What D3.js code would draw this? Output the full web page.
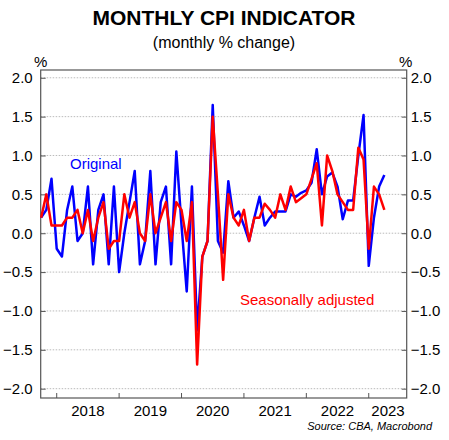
<!DOCTYPE html>
<head>
    <meta charset="UTF-8" />
    <script src="https://d3js.org/d3.v7.min.js"></script>
    <style>
        body { margin: 0; background: #fff; font-family: 'Liberation Sans', Arial, sans-serif; }
    </style>
</head>
<body>
<div id="chart"></div>
<script>
    // months run Oct 2017 .. Apr 2023
    const startYear = 2017, startMonth = 9
    const original = [0.2, 0.3, 0.7, -0.2, -0.3, 0.3, 0.6, -0.1, 0.0, 0.6, -0.4, 0.3, 0.5, -0.4, 0.6, -0.5,
        0.0, 0.4, 0.8, -0.4, -0.1, 0.8, -0.4, 0.4, 0.6, -0.4, 1.05, 0.1, -0.75, 0.6, -1.25, -0.3, -0.1,
        1.65, -0.1, -0.25, 0.67, 0.2, 0.28, 0.1, -0.1, 0.2, 0.47, 0.1, 0.2, 0.28, 0.28, 0.28, 0.5, 0.47,
        0.52, 0.55, 0.65, 1.08, 0.5, 0.73, 0.78, 0.6, 0.18, 0.42, 0.42, 1.0, 1.52, -0.42, 0.2, 0.6, 0.75]
    const adjusted = [0.2, 0.5, 0.1, 0.1, 0.1, 0.2, 0.2, 0.3, 0.0, 0.3, -0.1, 0.2, 0.4, -0.2, -0.1, -0.1,
        0.5, 0.2, 0.4, 0.0, -0.1, 0.5, 0.0, 0.2, 0.4, -0.1, 0.4, 0.3, -0.1, 0.4, -1.69, -0.3, -0.1,
        1.5, 0.5, -0.6, 0.5, 0.2, 0.1, 0.3, -0.1, 0.2, 0.2, 0.38, 0.3, 0.2, 0.5, 0.3, 0.6, 0.4,
        0.45, 0.5, 0.7, 0.9, 0.1, 1.0, 0.8, 0.5, 0.4, 0.3, 0.3, 1.1, 0.95, -0.2, 0.6, 0.5, 0.3]
    const years = [2018, 2019, 2020, 2021, 2022, 2023]
    const yTicks = [-2.0, -1.5, -1.0, -0.5, 0.0, 0.5, 1.0, 1.5, 2.0]

    const W = 449, H = 440
    const pl = 40.7, pr = 406.7, pt = 70, pb = 398

    const svg = d3.select('#chart').append('svg').attr('width', W).attr('height', H)

    // x in months since Jan 2018
    const mIdx = i => (startYear - 2018) * 12 + startMonth + i
    const x = d3.scaleLinear().domain([-3.08, 67.3]).range([pl, pr])
    const y = d3.scaleLinear().domain([-2.12, 2.1]).range([pb, pt])

    // grid
    svg.append('g').selectAll('line').data(yTicks).join('line')
        .attr('x1', pl).attr('x2', pr)
        .attr('y1', d => y(d)).attr('y2', d => y(d))
        .attr('stroke', '#aaa').attr('stroke-width', 0.8).attr('stroke-dasharray', '1.5,1.5')

    // frame
    svg.append('rect').attr('x', pl).attr('y', pt).attr('width', pr - pl).attr('height', pb - pt)
        .attr('fill', 'none').attr('stroke', '#555').attr('stroke-width', 1.2)

    const fmt = d3.format('.1f')
    const yl = svg.append('g').attr('transform', `translate(${pl},0)`)
        .call(d3.axisRight(y).tickValues(yTicks).tickSize(5).tickFormat(fmt))
    yl.select('.domain').remove()
    yl.selectAll('text').attr('x', -8).attr('text-anchor', 'end')
    const yr = svg.append('g').attr('transform', `translate(${pr},0)`)
        .call(d3.axisLeft(y).tickValues(yTicks).tickSize(5).tickFormat(fmt))
    yr.select('.domain').remove()
    yr.selectAll('text').attr('x', 4).attr('text-anchor', 'start')
    svg.selectAll('.tick text').style('font-size', '15px').style('font-family', 'Liberation Sans').attr('fill', '#000')
    svg.selectAll('.tick line').attr('stroke', '#555')

    // year ticks and labels
    const xa = svg.append('g').attr('transform', `translate(0,${pb})`)
    xa.selectAll('line').data(years).join('line')
        .attr('x1', d => x((d - 2018) * 12)).attr('x2', d => x((d - 2018) * 12))
        .attr('y1', 0).attr('y2', -5).attr('stroke', '#555')
    xa.selectAll('text').data(years).join('text')
        .attr('x', d => Math.min(x((d - 2018) * 12 + 6), 388))
        .attr('y', 18).attr('text-anchor', 'middle')
        .style('font-size', '15px').text(d => d)

    const line = d3.line().x((d, i) => x(mIdx(i))).y(d => y(d))
    svg.append('path').datum(original).attr('d', line)
        .attr('fill', 'none').attr('stroke', '#0000ff').attr('stroke-width', 2.5).attr('stroke-linejoin', 'round')
    svg.append('path').datum(adjusted).attr('d', line)
        .attr('fill', 'none').attr('stroke', '#ff0000').attr('stroke-width', 2.5).attr('stroke-linejoin', 'round')

    // titles
    svg.append('text').attr('x', 224).attr('y', 25).attr('text-anchor', 'middle')
        .style('font-size', '21px').style('font-weight', 'bold').text('MONTHLY CPI INDICATOR')
    svg.append('text').attr('x', 224).attr('y', 48).attr('text-anchor', 'middle')
        .style('font-size', '16px').text('(monthly % change)')
    svg.append('text').attr('x', 34).attr('y', 67).style('font-size', '15px').text('%')
    svg.append('text').attr('x', 399).attr('y', 67).style('font-size', '15px').text('%')

    svg.append('text').attr('x', 70).attr('y', 169).attr('fill', '#0000ff').style('font-size', '15px').text('Original')
    svg.append('text').attr('x', 240).attr('y', 305).attr('fill', '#ff0000').style('font-size', '15px').text('Seasonally adjusted')

    svg.append('text').attr('x', 432).attr('y', 430).attr('text-anchor', 'end')
        .style('font-size', '11px').style('font-style', 'italic').text('Source: CBA, Macrobond')
</script>
</body>
